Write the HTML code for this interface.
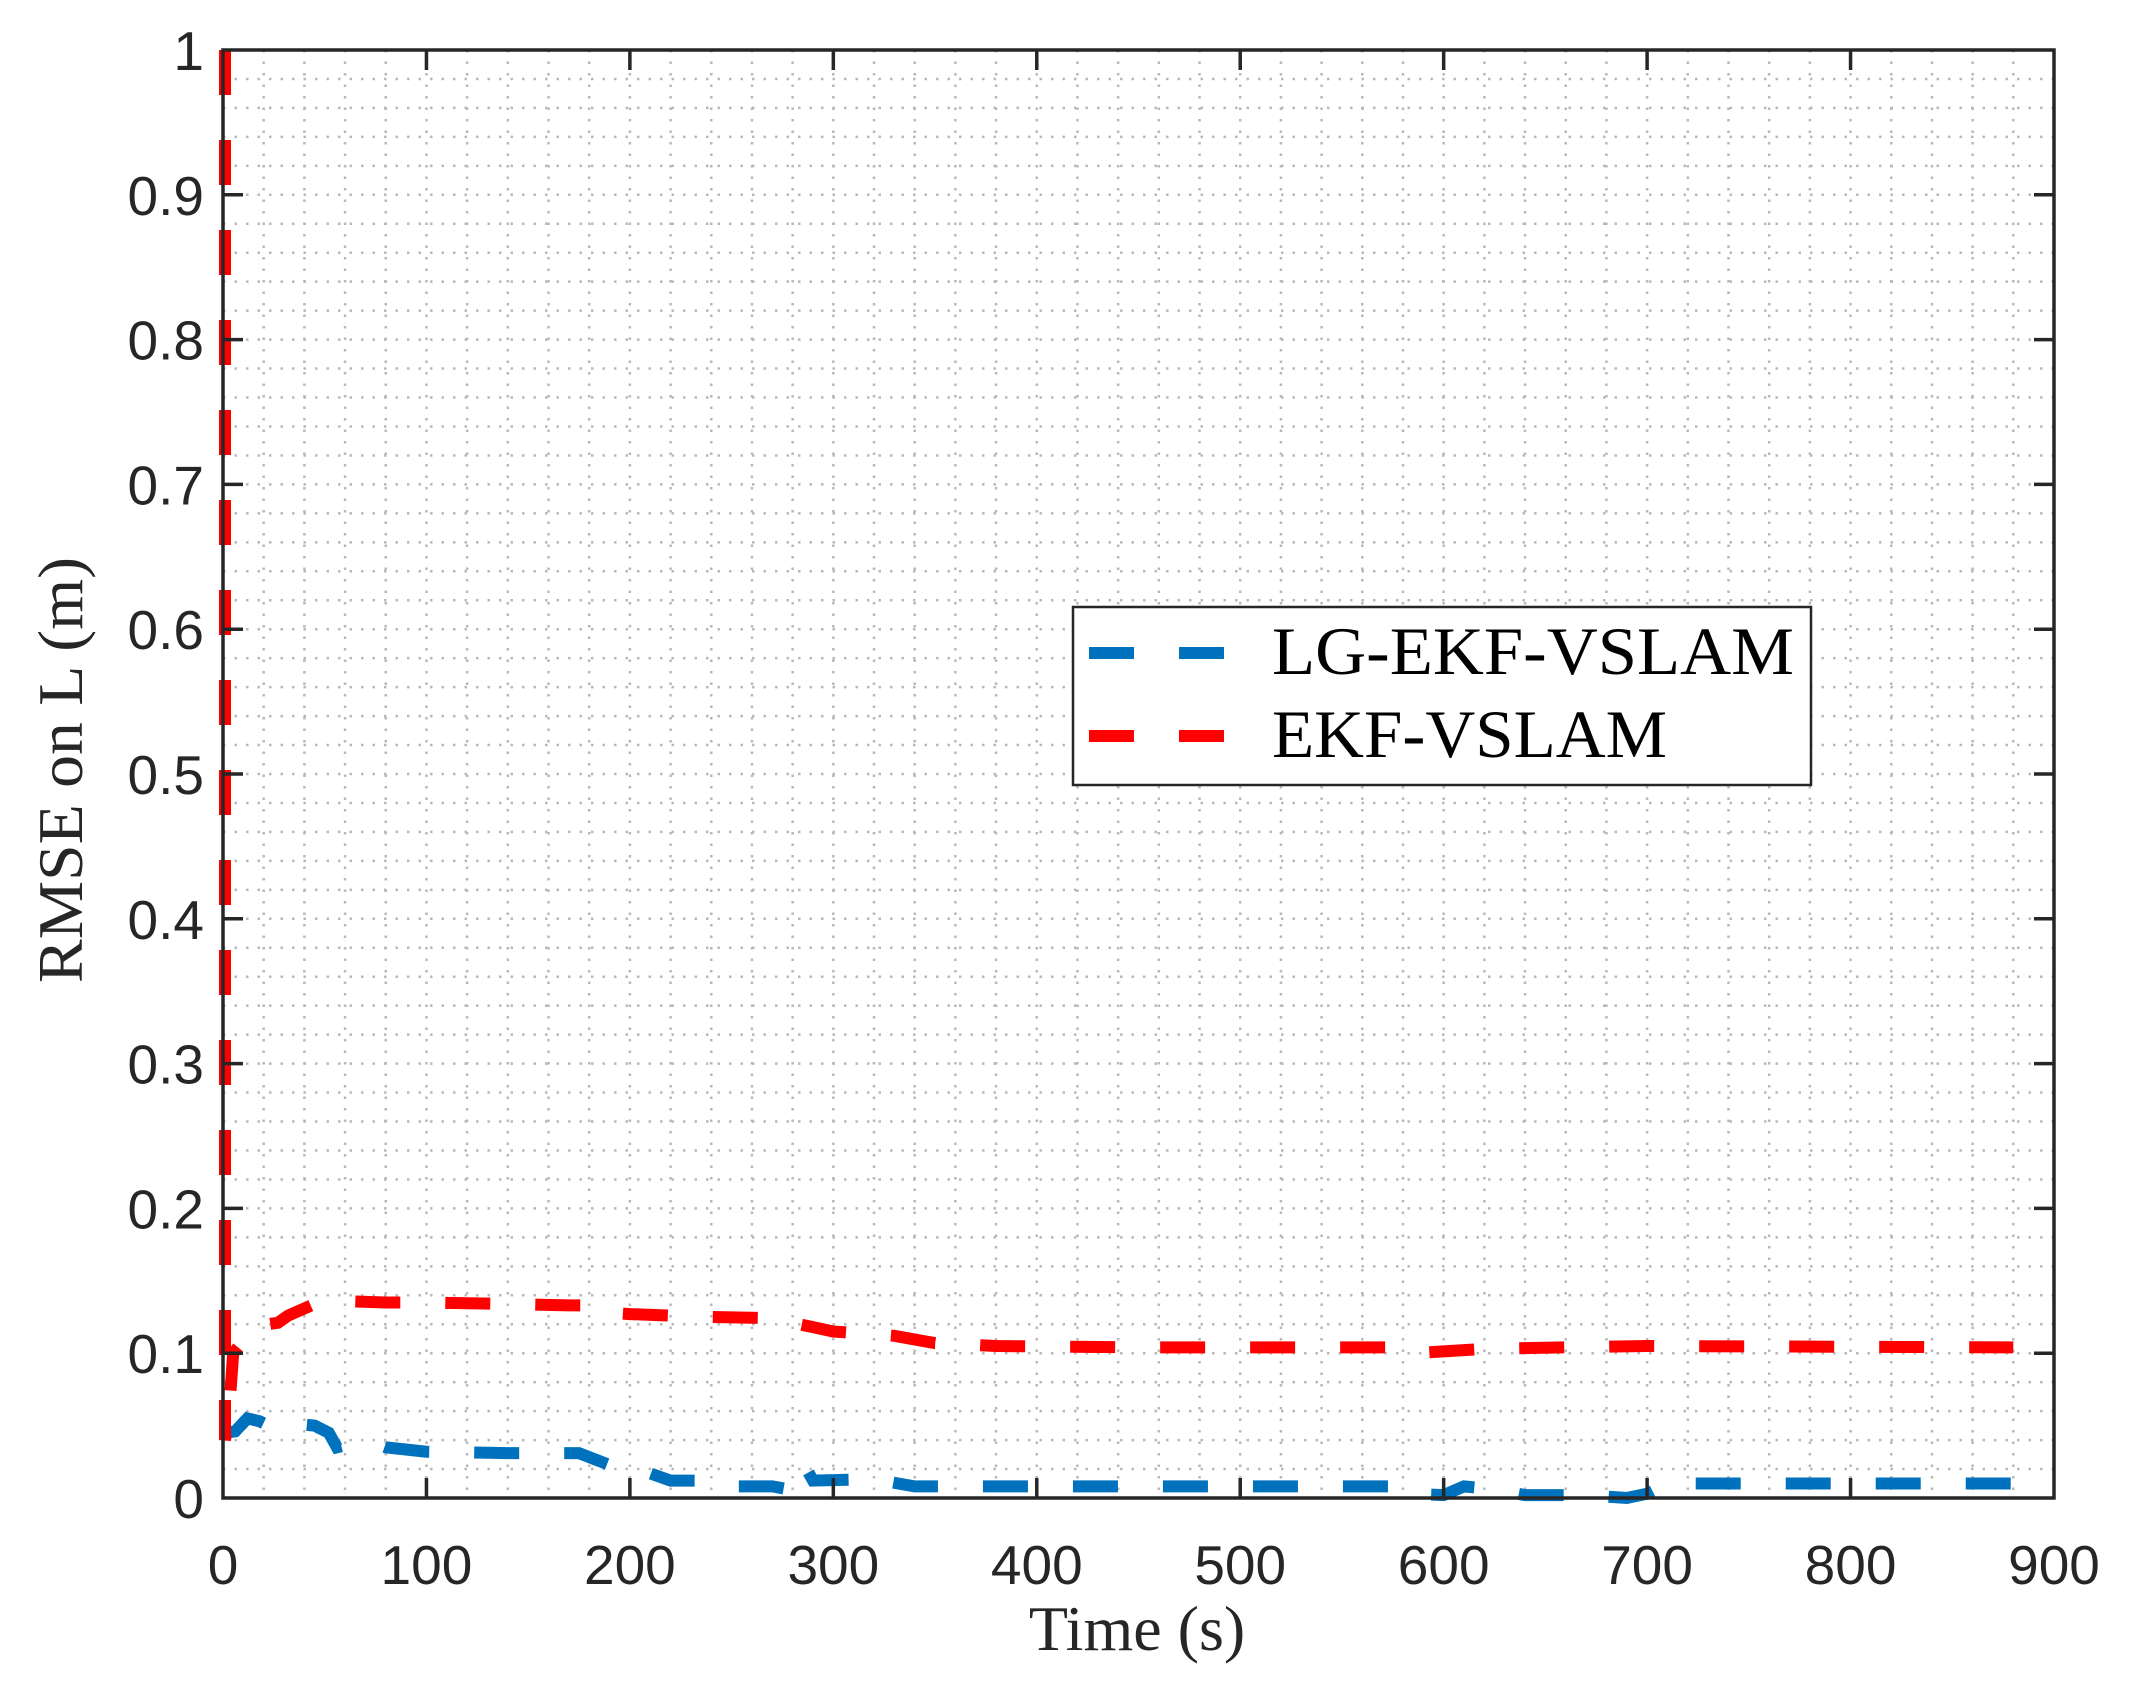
<!DOCTYPE html>
<html><head><meta charset="utf-8"><style>
html,body{margin:0;padding:0;background:#fff;}
svg{display:block;}
</style></head><body>
<svg id="s" width="2130" height="1692" viewBox="0 0 2130 1692" xmlns="http://www.w3.org/2000/svg">
<rect width="2130" height="1692" fill="#fff"/>
<g id="grid" stroke="#b8b8b8" stroke-width="2.5" stroke-dasharray="2.5 9"></g>
<g id="series" fill="none" stroke-width="12" stroke-dasharray="45 45"></g>
<rect x="223" y="50" width="1831" height="1448" fill="none" stroke="#262626" stroke-width="3.5"/>
<g id="ticks" stroke="#262626" stroke-width="3.5"></g>
<g id="labels" font-family="Liberation Sans, sans-serif" font-size="55" fill="#262626"></g>
<text x="1137" y="1650" font-family="Liberation Serif, serif" font-size="64" text-anchor="middle" fill="#262626">Time (s)</text>
<text transform="translate(82,770) rotate(-90)" font-family="Liberation Serif, serif" font-size="64" text-anchor="middle" fill="#262626" textLength="426" lengthAdjust="spacingAndGlyphs">RMSE on L (m)</text>
<rect x="1073" y="607" width="738" height="178" fill="#fff" stroke="#262626" stroke-width="2.5"/>
<line x1="1089" y1="653" x2="1224" y2="653" stroke="#0072bd" stroke-width="12" stroke-dasharray="45 45"/>
<line x1="1089" y1="736" x2="1224" y2="736" stroke="#ff0000" stroke-width="12" stroke-dasharray="45 45"/>
<text x="1272" y="674" font-family="Liberation Serif, serif" font-size="68" fill="#000" textLength="522" lengthAdjust="spacingAndGlyphs">LG-EKF-VSLAM</text>
<text x="1272" y="757" font-family="Liberation Serif, serif" font-size="68" fill="#000" textLength="395" lengthAdjust="spacingAndGlyphs">EKF-VSLAM</text>
</svg>
<script>
var NS="http://www.w3.org/2000/svg";
function X(t){return 223+t*1831/900;}
function Y(v){return 1498-v*1448;}
function el(p,n,a){var e=document.createElementNS(NS,n);for(var k in a)e.setAttribute(k,a[k]);p.appendChild(e);return e;}
var g=document.getElementById('grid');
for(var t=20;t<900;t+=20)el(g,'line',{x1:X(t),y1:50,x2:X(t),y2:1498});
for(var i=1;i<50;i++){var v=i*0.02;el(g,'line',{x1:223,y1:Y(v),x2:2054,y2:Y(v)});}
var tk=document.getElementById('ticks'),lb=document.getElementById('labels');
for(var t=0;t<=900;t+=100){var x=X(t);
 if(t>0&&t<900){el(tk,'line',{x1:x,y1:1498,x2:x,y2:1478});el(tk,'line',{x1:x,y1:50,x2:x,y2:70});}
 var e=el(lb,'text',{x:x,y:1584,'text-anchor':'middle'});e.textContent=t;}
for(var i=0;i<=10;i++){var y=Y(i/10);
 if(i>0&&i<10){el(tk,'line',{x1:223,y1:y,x2:243,y2:y});el(tk,'line',{x1:2054,y1:y,x2:2034,y2:y});}
 var e=el(lb,'text',{x:204,y:y+20,'text-anchor':'end'});e.textContent=(i==0?'0':i==10?'1':'0.'+i);}
var red=[[1,1],[1,0.04],[3,0.06],[5,0.1],[12,0.112],[18,0.122],[22,0.12],[27,0.121],[32,0.126],[45,0.134],[60,0.136],[80,0.135],[100,0.135],[140,0.134],[170,0.133],[185,0.133],[190,0.128],[200,0.127],[240,0.125],[275,0.124],[283,0.12],[290,0.118],[300,0.115],[330,0.112],[350,0.107],[380,0.105],[450,0.104],[575,0.104],[585,0.1],[620,0.103],[660,0.104],[700,0.105],[880,0.104]];
var blue=[[1,0.045],[6,0.046],[12,0.055],[18,0.053],[24,0.049],[30,0.052],[45,0.05],[52,0.045],[56,0.035],[70,0.04],[80,0.035],[100,0.032],[140,0.031],[175,0.031],[195,0.02],[210,0.017],[220,0.012],[235,0.012],[245,0.008],[270,0.008],[278,0.006],[282,0.022],[286,0.022],[290,0.012],[320,0.013],[340,0.008],[575,0.008],[582,0.003],[600,0.002],[610,0.008],[625,0.006],[640,0.002],[670,0.002],[690,0.0],[700,0.003],[710,0.01],[740,0.01],[880,0.01]];
var sg=document.getElementById('series');
function path(d,c){var s='';d.forEach(function(p,i){s+=(i?'L':'M')+X(p[0]).toFixed(1)+' '+Y(p[1]).toFixed(1);});el(sg,'path',{d:s,stroke:c});}
path(blue,'#0072bd');path(red,'#ff0000');
</script>
</body></html>
